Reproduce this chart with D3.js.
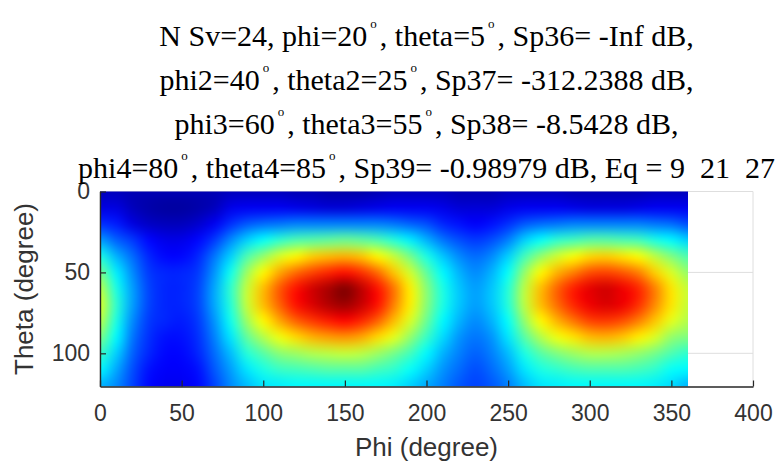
<!DOCTYPE html>
<html>
<head>
<meta charset="utf-8">
<script src="https://cdn.jsdelivr.net/npm/d3@7"></script>
<style>
  body { margin: 0; background: #fff; }
  svg { display: block; }
</style>
</head>
<body>
<svg id="chart" width="776" height="464"></svg>
<script>
// Sample grid: azimuth (phi) columns and elevation (theta) rows, in degrees
const phiGrid = [0, 10, 20, 30, 40, 50, 60, 70, 80, 90, 100, 110, 120, 130, 140, 150, 160, 170, 180,
                 190, 200, 210, 220, 230, 240, 250, 260, 270, 280, 290, 300, 310, 320, 330, 340, 350, 360];
const thetaGrid = [0, 10, 20, 30, 40, 50, 60, 70, 80, 90, 100, 110, 120];

// Normalised pattern level (percent of colour range), one row per theta value
const gainPct = [
  [5,5,4,4,4,4,4,4,5,5,5,5,4,4,3,3,3,4,5,5,5,5,4,4,4,5,5,5,5,4,4,4,4,4,5,5,5],
  [9,9,5,3,2,2,3,5,10,11,11,11,10,9,8,8,9,10,11,11,11,10,8,8,8,10,11,11,11,10,9,9,9,10,11,11,11],
  [17,15,9,6,5,5,7,11,17,21,23,24,25,25,25,25,25,25,24,22,20,16,14,12,14,17,21,23,24,25,25,25,25,25,24,23,20],
  [28,22,18,13,10,10,13,18,26,33,38,42,45,46,47,48,47,45,41,36,30,24,20,18,20,25,33,38,42,44,46,46,45,44,40,37,33],
  [40,30,23,16,13,13,16,24,33,45,52,59,63,67,69,70,68,63,57,49,40,32,26,23,26,33,44,52,58,62,66,67,65,62,56,50,45],
  [49,36,26,18,16,16,18,27,39,53,63,71,77,81,84,86,83,77,68,58,47,37,30,26,30,38,52,63,70,75,80,81,79,75,67,59,52],
  [56,40,28,19,16,16,19,29,42,57,69,79,86,92,96,100,94,86,76,64,51,40,32,28,32,41,56,69,78,85,90,92,89,84,75,65,57],
  [59,42,28,19,16,16,19,29,41,57,69,78,86,91,95,97,93,86,75,64,51,40,32,28,32,41,56,69,77,84,89,91,89,83,74,65,57],
  [56,40,26,18,16,15,18,27,39,53,63,71,78,82,85,87,84,78,69,59,48,37,30,26,30,38,52,63,70,76,81,82,80,75,68,60,55],
  [50,37,24,17,14,14,17,25,35,47,55,61,66,70,72,73,71,66,60,52,43,34,27,24,27,35,46,55,61,65,69,70,68,64,59,52,50],
  [43,33,22,16,13,13,16,23,31,41,46,51,53,55,56,57,56,53,49,44,37,30,25,22,25,31,40,46,50,53,55,55,54,52,49,45,42],
  [37,29,20,14,12,12,14,21,28,35,40,43,44,45,46,46,46,44,42,38,33,27,23,20,23,28,35,40,42,44,45,45,45,44,42,38,37],
  [30,26,19,13,11,11,13,19,26,31,35,36,37,37,37,37,37,37,36,33,29,25,21,19,21,25,31,35,36,37,37,37,37,37,36,34,30]
];

// Axis ticks
const xTicks = [0, 50, 100, 150, 200, 250, 300, 350, 400];
const yTicks = [0, 50, 100];

// Title lines; "°" marks a raised degree ring
const titleLines = [
  "N Sv=24, phi=20°, theta=5°, Sp36= -Inf dB,",
  "phi2=40°, theta2=25°, Sp37= -312.2388 dB,",
  "phi3=60°, theta3=55°, Sp38= -8.5428 dB,",
  "phi4=80°, theta4=85°, Sp39= -0.98979 dB, Eq = 9  21  27"
];

const svg = d3.select("#chart");

const x = d3.scaleLinear().domain([0, 400]).range([100, 753]);
const y = d3.scaleLinear().domain([0, 120.5]).range([191.5, 386.5]);

// Jet colour map
const jet = d3.scaleLinear()
  .domain([0, 12.5, 37.5, 62.5, 87.5, 100])
  .range(["#00008f", "#0000ff", "#00ffff", "#ffff00", "#ff0000", "#800000"])
  .clamp(true);

// Grid lines (under the image)
const grid = svg.append("g").attr("stroke", "#dedede").attr("stroke-width", 1);
yTicks.forEach(t => grid.append("line")
  .attr("x1", x(0)).attr("x2", x(400)).attr("y1", y(t)).attr("y2", y(t)));
xTicks.forEach(t => grid.append("line")
  .attr("x1", x(t)).attr("x2", x(t)).attr("y1", y(0)).attr("y2", y(120.5)));

// Heat map: one pixel per grid cell, then upsampled smoothly onto the plot area
const nx = phiGrid.length, ny = thetaGrid.length;
const small = document.createElement("canvas");
small.width = nx; small.height = ny;
const sctx = small.getContext("2d");
const img = sctx.createImageData(nx, ny);
gainPct.forEach((row, j) => row.forEach((v, i) => {
  const c = d3.rgb(jet(v));
  const k = (j * nx + i) * 4;
  img.data[k] = c.r; img.data[k + 1] = c.g; img.data[k + 2] = c.b; img.data[k + 3] = 255;
}));
sctx.putImageData(img, 0, 0);

const dPhi = phiGrid[1] - phiGrid[0];
const dTh = thetaGrid[1] - thetaGrid[0];
const phiMax = phiGrid[nx - 1];
const x0 = x(phiGrid[0]), y0 = y(thetaGrid[0]);
const W = Math.round(x(phiMax) - x0);
const H = Math.round(y(120.5) - y0);
const big = document.createElement("canvas");
big.width = W; big.height = H;
const bctx = big.getContext("2d");
bctx.imageSmoothingEnabled = true;
bctx.imageSmoothingQuality = "high";
bctx.drawImage(small,
  x(phiGrid[0] - dPhi / 2) - x0, y(thetaGrid[0] - dTh / 2) - y0,
  x(phiMax + dPhi / 2) - x(phiGrid[0] - dPhi / 2),
  y(thetaGrid[ny - 1] + dTh / 2) - y(thetaGrid[0] - dTh / 2));

svg.append("image")
  .attr("x", x0).attr("y", y0)
  .attr("width", W).attr("height", H)
  .attr("preserveAspectRatio", "none")
  .attr("href", big.toDataURL());

// Axes
const axisColor = "#262626";
const xAxis = svg.append("g")
  .attr("transform", `translate(0,${y(120.5)})`)
  .call(d3.axisBottom(x).tickValues(xTicks).tickSizeInner(-6).tickSizeOuter(0).tickPadding(18));
const yAxis = svg.append("g")
  .attr("transform", `translate(${x(0)},0)`)
  .call(d3.axisLeft(y).tickValues(yTicks).tickSizeInner(-6).tickSizeOuter(0).tickPadding(10));

[xAxis, yAxis].forEach(g => {
  g.select(".domain").attr("stroke", axisColor).attr("stroke-width", 1.4);
  g.selectAll(".tick line").attr("stroke", axisColor).attr("stroke-width", 1.2);
  g.selectAll(".tick text")
    .attr("fill", "#333")
    .style("font-family", "'Liberation Sans', Arial, sans-serif")
    .style("font-size", "23px");
});

// Axis labels
svg.append("text")
  .attr("x", (x(0) + x(400)) / 2).attr("y", 456)
  .attr("text-anchor", "middle")
  .attr("fill", "#333")
  .style("font-family", "'Liberation Sans', Arial, sans-serif")
  .style("font-size", "26px")
  .text("Phi (degree)");

svg.append("text")
  .attr("transform", `translate(33,${(y(0) + y(120.5)) / 2}) rotate(-90)`)
  .attr("text-anchor", "middle")
  .attr("fill", "#333")
  .style("font-family", "'Liberation Sans', Arial, sans-serif")
  .style("font-size", "26px")
  .text("Theta (degree)");

// Title
const titleX = (x(0) + x(400)) / 2;
const baselines = [46, 90, 134, 178];
titleLines.forEach((line, li) => {
  const t = svg.append("text")
    .attr("x", titleX).attr("y", baselines[li])
    .attr("text-anchor", "middle")
    .attr("fill", "#000")
    .attr("xml:space", "preserve")
    .style("white-space", "pre")
    .style("font-family", "'Liberation Serif', 'Times New Roman', serif")
    .style("font-size", "30px");
  const parts = line.split("°");
  parts.forEach((p, pi) => {
    const s = t.append("tspan").text(p);
    if (pi > 0) s.attr("dy", 18).attr("dx", 3);
    if (pi < parts.length - 1) {
      t.append("tspan")
        .attr("dy", -18).attr("dx", 3)
        .style("font-size", "13px")
        .text("o");
    }
  });
});
</script>
</body>
</html>
